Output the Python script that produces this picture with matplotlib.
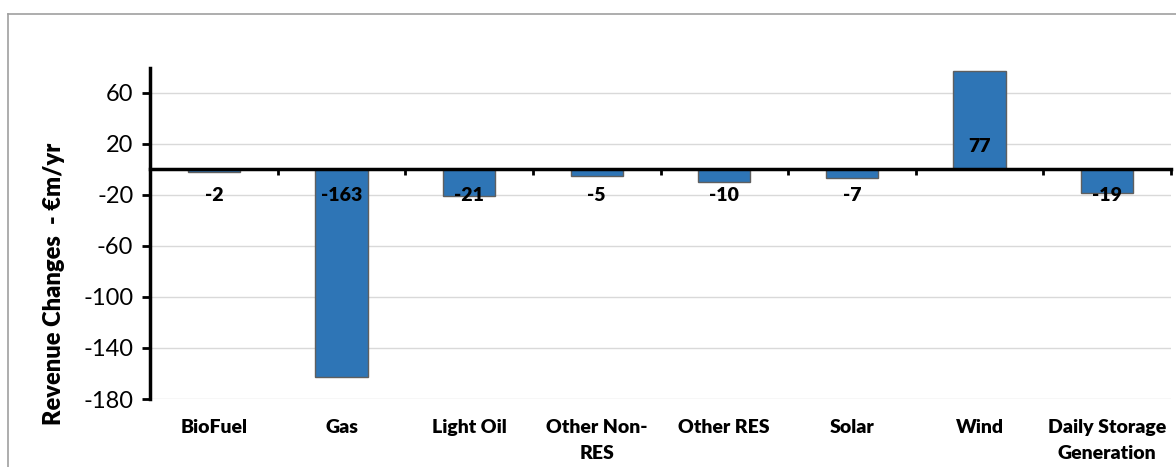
import matplotlib
matplotlib.use("Agg")
import matplotlib.pyplot as plt
from matplotlib.lines import Line2D
import numpy as np

# Revenue change per technology (EUR million per year)
categories = ["BioFuel", "Gas", "Light Oil", "Other Non-\nRES", "Other RES",
              "Solar", "Wind", "Daily Storage\nGeneration"]
values = [-2, -163, -21, -5, -10, -7, 77, -19]
y_ticks = [-180, -140, -100, -60, -20, 20, 60]

plt.rcParams["font.family"] = "Lato"
LABEL_WEIGHT = "heavy"

W, H = 1176, 467
fig = plt.figure(figsize=(W / 100, H / 100), dpi=100)
ax = fig.add_axes([150 / W, 1 - 399 / H, (1171 - 150) / W, (399 - 68) / H])

x = np.arange(len(categories))
ax.bar(x, values, width=0.41, color="#2E75B6", edgecolor="#5f5f5f",
       linewidth=1.0, zorder=3)

ax.set_xlim(-0.5, len(categories) - 0.5)
ax.set_ylim(-180, 79.2)

# horizontal gridlines
ax.set_yticks(y_ticks)
ax.set_yticklabels([str(t) for t in y_ticks], fontsize=17)
ax.grid(axis="y", color="#D9D9D9", linewidth=1.0, zorder=0)
ax.set_axisbelow(True)

# category axis sits on the zero line, with ticks between categories
for s in ["top", "right"]:
    ax.spines[s].set_visible(False)
ax.spines["bottom"].set_position(("data", 0))
ax.spines["bottom"].set_linewidth(2.5)
ax.spines["bottom"].set_zorder(4)
ax.spines["left"].set_linewidth(2.5)
ax.set_xticks(np.arange(1, len(categories) + 1) - 0.5)
ax.set_xticklabels([])
ax.tick_params(axis="x", direction="out", length=4, width=2, color="black")
ax.tick_params(axis="y", direction="out", length=6, width=2, color="black", pad=6)

# category names below the plot area, one text per line
for i, name in enumerate(categories):
    for j, line in enumerate(name.split("\n")):
        ax.annotate(line, xy=(i, -180), xytext=(0, -20.2 - 18.7 * j),
                    textcoords="offset points", ha="center", va="center",
                    fontsize=14, fontweight=LABEL_WEIGHT, annotation_clip=False)

# value labels near the base of each bar
for i, v in enumerate(values):
    off = 16.6 if v > 0 else -18.7
    ax.annotate(f"{v:d}", xy=(i, 0), xytext=(0, off), textcoords="offset points",
                ha="center", va="center", fontsize=14, fontweight=LABEL_WEIGHT,
                zorder=5)

fig.text(54 / W, 1 - 283.5 / H, "Revenue Changes  - €m/yr", rotation=90,
         ha="center", va="center", fontsize=17, fontweight=LABEL_WEIGHT)

# chart-area frame
fig.add_artist(Line2D([8 / W, 8 / W], [-0.05, 1 - 14 / H], transform=fig.transFigure,
                      color="#A0A0A0", linewidth=1.2))
fig.add_artist(Line2D([8 / W, 1.05], [1 - 14 / H, 1 - 14 / H], transform=fig.transFigure,
                      color="#A0A0A0", linewidth=1.2))

fig.savefig("out.png", dpi=100)
